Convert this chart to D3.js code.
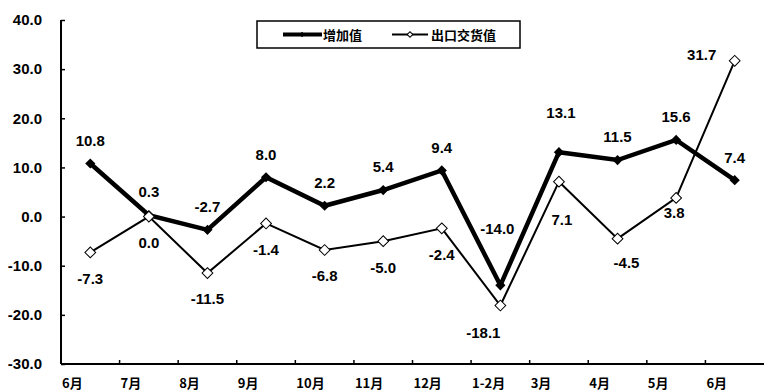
<!DOCTYPE html>
<html>
<head>
<meta charset="utf-8">
<script src="https://cdn.jsdelivr.net/npm/d3@7"></script>
<style>
  body { margin: 0; background: #fff; }
  text { font-family: "Liberation Sans", Arial, sans-serif; font-weight: bold; fill: #000; }
  .cjk { font-family: "Noto Sans CJK SC", sans-serif; }
</style>
</head>
<body>
<div id="chart"></div>
<script>
var w = 769,
  h = 392;

// data
var months = ["6月", "7月", "8月", "9月", "10月", "11月", "12月", "1-2月", "3月", "4月", "5月", "6月"];
var addedValue = [10.8, 0.3, -2.7, 8.0, 2.2, 5.4, 9.4, -14.0, 13.1, 11.5, 15.6, 7.4];
var exportValue = [-7.3, 0.0, -11.5, -1.4, -6.8, -5.0, -2.4, -18.1, 7.1, -4.5, 3.8, 31.7];
var yTicks = [40, 30, 20, 10, 0, -10, -20, -30];
var seriesNames = ["增加值", "出口交货值"];

// label nudges where the labels were moved off the default spot
var addedNudge = { 7: [-3, -57], 8: [2, -40] };
var exportNudge = { 7: [-17, 27], 8: [3, 38], 9: [9, 24], 10: [-2, 15], 11: [-33, -6] };

// plain hyphen for negatives, like the original
var fmt = d3.formatLocale({ decimal: ".", thousands: ",", grouping: [3], currency: ["", ""], minus: "-" }).format(".1f");

var svg = d3.select("#chart").append("svg").attr("width", w).attr("height", h);

var x = d3.scaleBand().domain(d3.range(months.length)).range([61, 764]).padding(0);
var y = d3.scaleLinear().domain([-30, 40]).range([364, 20]);

// y axis
var yAxis = svg.append("g").attr("transform", "translate(61,0)")
  .call(d3.axisLeft(y).tickValues(yTicks).tickSize(-4).tickPadding(19).tickFormat(fmt));
yAxis.select(".domain").attr("d", "M0," + y(40) + "V" + y(-30)).attr("stroke-width", 2);
yAxis.selectAll(".tick line").attr("stroke-width", 1.5);
yAxis.selectAll("text").style("font-size", "15px");

// x axis, labels start at each band's left edge
var xAxis = svg.append("g").attr("transform", "translate(0,364)")
  .call(d3.axisBottom(x).tickSize(0).tickPadding(15).tickFormat(function(i) { return months[i]; }));
xAxis.select(".domain").attr("d", "M61,0H764").attr("stroke-width", 2);
xAxis.selectAll("text")
  .attr("class", "cjk")
  .attr("text-anchor", "start")
  .attr("x", -x.bandwidth() / 2 + 1)
  .style("font-size", "13px");
xAxis.selectAll(".bound").data(d3.range(1, months.length)).enter().append("line")
  .attr("x1", function(i) { return x(i); })
  .attr("x2", function(i) { return x(i); })
  .attr("y1", 0).attr("y2", -4)
  .attr("stroke", "#000").attr("stroke-width", 1.5);

var cx = function(d, i) { return x(i) + x.bandwidth() / 2; };
var line = d3.line().x(cx).y(function(d) { return y(d); });

var diamond = function(size) {
  return d3.symbol().type(d3.symbolSquare).size(size)();
};

// 出口交货值 (thin, open diamonds)
svg.append("path").datum(exportValue)
  .attr("d", line).attr("fill", "none").attr("stroke", "#000").attr("stroke-width", 2);

// 增加值 (thick, filled diamonds)
svg.append("path").datum(addedValue)
  .attr("d", line).attr("fill", "none").attr("stroke", "#000").attr("stroke-width", 4.5);

svg.selectAll(".m1").data(addedValue).enter().append("path")
  .attr("d", diamond(52))
  .attr("transform", function(d, i) { return "translate(" + cx(d, i) + "," + y(d) + ") rotate(45)"; })
  .attr("fill", "#000");

svg.selectAll(".m2").data(exportValue).enter().append("path")
  .attr("d", diamond(58))
  .attr("transform", function(d, i) { return "translate(" + cx(d, i) + "," + y(d) + ") rotate(45)"; })
  .attr("fill", "#fff").attr("stroke", "#000").attr("stroke-width", 1);

// value labels
function labels(values, nudge, dy) {
  svg.selectAll(null).data(values).enter().append("text")
    .attr("text-anchor", "middle")
    .attr("dy", "0.36em")
    .attr("x", function(d, i) { return cx(d, i) + (nudge[i] ? nudge[i][0] : 0); })
    .attr("y", function(d, i) { return y(d) + (nudge[i] ? nudge[i][1] : dy); })
    .style("font-size", "15px")
    .text(function(d) { return fmt(d); });
}
labels(addedValue, addedNudge, -23);
labels(exportValue, exportNudge, 26);

// legend
var legend = svg.append("g");
legend.append("rect").attr("x", 257).attr("y", 21).attr("width", 263).attr("height", 27)
  .attr("fill", "#fff").attr("stroke", "#000").attr("stroke-width", 1.5);
legend.append("line").attr("x1", 283).attr("x2", 322).attr("y1", 34.5).attr("y2", 34.5)
  .attr("stroke", "#000").attr("stroke-width", 4);
legend.append("path").attr("d", diamond(14))
  .attr("transform", "translate(302,34.5) rotate(45)").attr("fill", "#000");
legend.append("text").attr("class", "cjk").attr("x", 323).attr("y", 39.5)
  .style("font-size", "13px").text(seriesNames[0]);
legend.append("line").attr("x1", 392).attr("x2", 428).attr("y1", 34.5).attr("y2", 34.5)
  .attr("stroke", "#000").attr("stroke-width", 2);
legend.append("path").attr("d", diamond(16))
  .attr("transform", "translate(410,34.5) rotate(45)")
  .attr("fill", "#fff").attr("stroke", "#000").attr("stroke-width", 1);
legend.append("text").attr("class", "cjk").attr("x", 431).attr("y", 39.5)
  .style("font-size", "13px").text(seriesNames[1]);
</script>
</body>
</html>
